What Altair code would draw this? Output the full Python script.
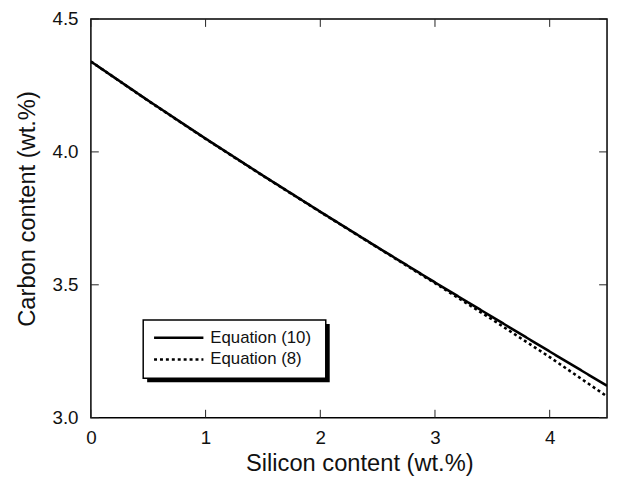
import altair as alt
import pandas as pd

# ---- data ----
si = [0, 0.5, 1, 1.5, 2, 2.5, 3, 3.5, 4, 4.5]
eq10 = [4.34, 4.193, 4.05, 3.911, 3.775, 3.641, 3.509, 3.379, 3.249, 3.12]
eq8 = [4.34, 4.192, 4.049, 3.91, 3.774, 3.64, 3.506, 3.369, 3.228, 3.08]
series_names = ["Equation (10)", "Equation (8)"]
x_ticks = [0, 1, 2, 3, 4]
y_ticks = [3.0, 3.5, 4.0, 4.5]

W, H = 523, 404
FONT = "Liberation Sans"

df = pd.DataFrame({
    "si": si + si,
    "c": eq10 + eq8,
    "eq": [series_names[0]] * len(si) + [series_names[1]] * len(si),
})

xscale = alt.Scale(domain=[0, 4.5], nice=False, zero=False)
yscale = alt.Scale(domain=[3.0, 4.5], nice=False, zero=False)

xaxis = alt.Axis(values=x_ticks, format="d", title="Silicon content (wt.%)",
                 ticks=False, tickSize=0, domain=False, grid=False, labelFlush=False,
                 labelPadding=11, labelFontSize=19, titleFontSize=24,
                 titlePadding=5, titleX=272, labelFont=FONT, titleFont=FONT,
                 labelColor="#111", titleColor="#111", titleFontWeight="normal")
yaxis = alt.Axis(values=y_ticks, format=".1f", title="Carbon content (wt.%)",
                 ticks=False, tickSize=0, domain=False, grid=False, labelFlush=False,
                 labelPadding=13, labelFontSize=19, titleFontSize=24,
                 titlePadding=13, titleY=192, labelFont=FONT, titleFont=FONT,
                 labelColor="#111", titleColor="#111", titleFontWeight="normal")

lines = alt.Chart(df).mark_line(color="black", strokeWidth=2.6, clip=True).encode(
    x=alt.X("si:Q", scale=xscale, axis=xaxis),
    y=alt.Y("c:Q", scale=yscale, axis=yaxis),
    strokeDash=alt.StrokeDash("eq:N", scale=alt.Scale(domain=series_names, range=[[1, 0], [3, 3]]),
                              legend=None),
)

xt = pd.DataFrame({"v": x_ticks})
yt = pd.DataFrame({"v": y_ticks})
tick_style = dict(color="#222", strokeWidth=1)
bottom = alt.Chart(xt).mark_rule(**tick_style).encode(
    x=alt.X("v:Q", scale=xscale, axis=xaxis), y=alt.value(H), y2=alt.value(H - 8))
top = alt.Chart(xt).mark_rule(**tick_style).encode(
    x=alt.X("v:Q", scale=xscale, axis=xaxis), y=alt.value(0), y2=alt.value(8))
left = alt.Chart(yt).mark_rule(**tick_style).encode(
    y=alt.Y("v:Q", scale=yscale, axis=yaxis), x=alt.value(0), x2=alt.value(8))
right = alt.Chart(yt).mark_rule(**tick_style).encode(
    y=alt.Y("v:Q", scale=yscale, axis=yaxis), x=alt.value(W - 8), x2=alt.value(W))

one = alt.Data(values=[{}])
shadow = alt.Chart(one).mark_rect(color="black").encode(
    x=alt.value(57), x2=alt.value(242), y=alt.value(309), y2=alt.value(368))
box = alt.Chart(one).mark_rect(fill="white", stroke="black", strokeWidth=1.5).encode(
    x=alt.value(53), x2=alt.value(238), y=alt.value(305), y2=alt.value(364))
r1 = alt.Chart(one).mark_rule(color="black", strokeWidth=2.6).encode(
    x=alt.value(64), x2=alt.value(114), y=alt.value(323))
r2 = alt.Chart(one).mark_rule(color="black", strokeWidth=2.6, strokeDash=[3, 3]).encode(
    x=alt.value(64), x2=alt.value(114), y=alt.value(345))
t1 = alt.Chart(one).mark_text(align="left", baseline="middle", fontSize=17, font=FONT, color="#111").encode(
    x=alt.value(121), y=alt.value(323), text=alt.value(series_names[0]))
t2 = alt.Chart(one).mark_text(align="left", baseline="middle", fontSize=17, font=FONT, color="#111").encode(
    x=alt.value(121), y=alt.value(345), text=alt.value(series_names[1]))

chart = alt.layer(lines, bottom, top, left, right, shadow, box, r1, r2, t1, t2).properties(
    width=W, height=H,
    padding={"left": 84, "top": 8, "right": 2, "bottom": 62},
    autosize=alt.AutoSizeParams(type="none"),
).configure_view(stroke="black", strokeWidth=1.5)

chart.save("out.html", embed_options={"renderer": "svg", "actions": False})
